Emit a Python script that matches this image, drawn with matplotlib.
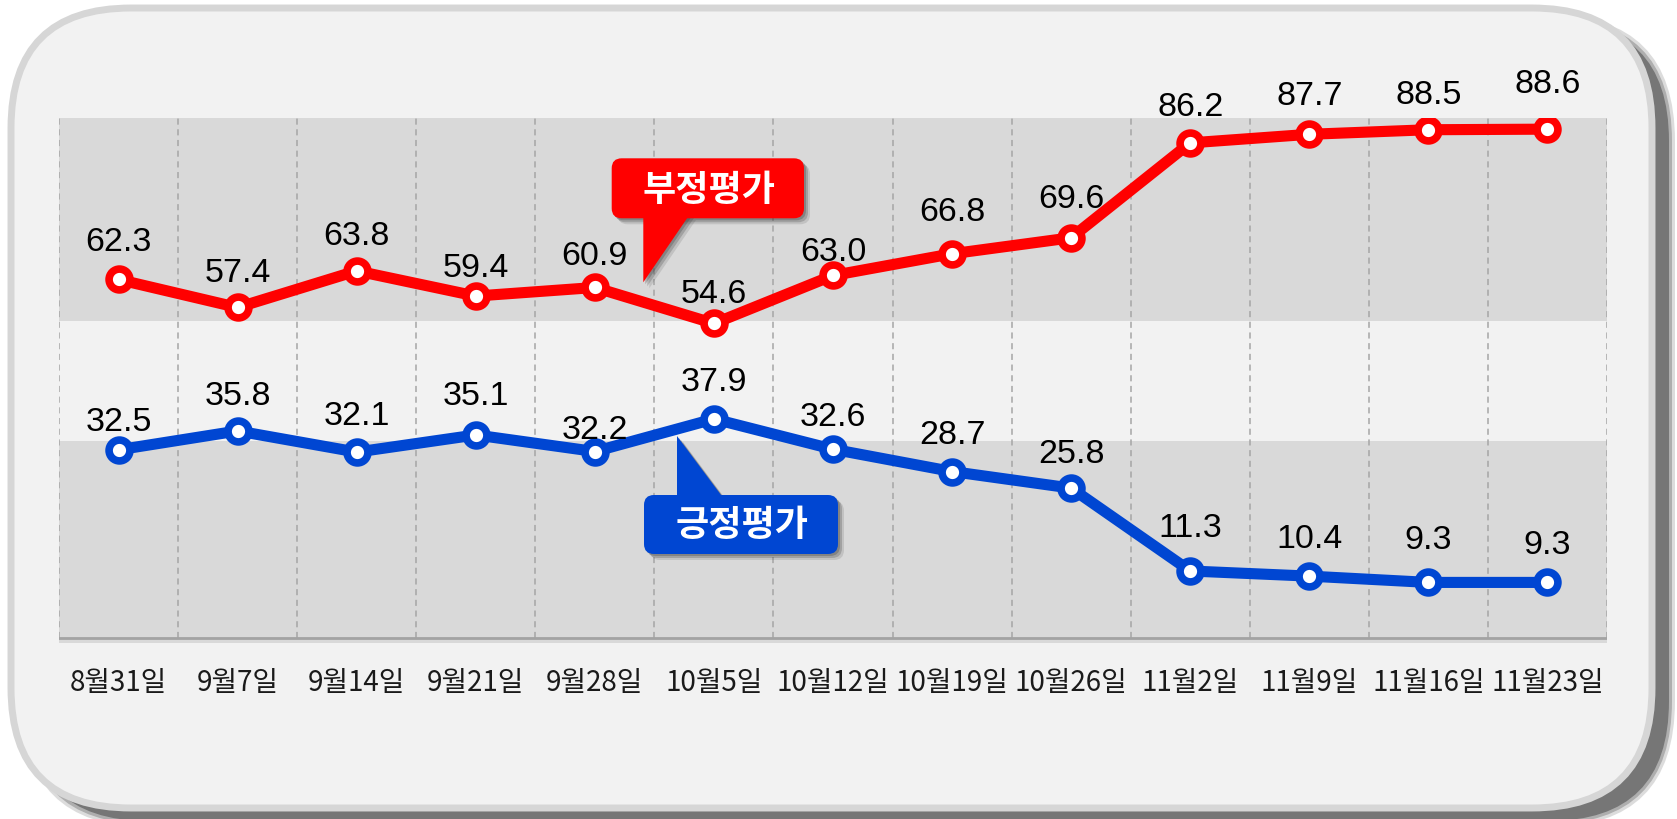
import numpy as np
import matplotlib
matplotlib.use('Agg')
import matplotlib.pyplot as plt
from matplotlib.patches import FancyBboxPatch, Polygon

plt.rcParams['font.family'] = ['Liberation Sans', 'Noto Sans CJK KR', 'DejaVu Sans']

# data
dates = ['8월31일', '9월7일', '9월14일', '9월21일', '9월28일', '10월5일', '10월12일',
         '10월19일', '10월26일', '11월2일', '11월9일', '11월16일', '11월23일']
negative = [62.3, 57.4, 63.8, 59.4, 60.9, 54.6, 63.0, 66.8, 69.6, 86.2, 87.7, 88.5, 88.6]
positive = [32.5, 35.8, 32.1, 35.1, 32.2, 37.9, 32.6, 28.7, 25.8, 11.3, 10.4, 9.3, 9.3]

# label offsets above the points, in pixels (label centre)
neg_off = [41, 38, 38, 32, 35, 33, 27, 45, 42, 39, 42, 38, 49]
pos_off = [31, 38, 40, 42, 25, 40, 36, 40, 38, 46, 41, 46, 41]

RED = '#ff0000'
BLUE = '#0046d2'
W, H = 1677, 820


def pixel_axes(fig, z):
    a = fig.add_axes([0, 0, 1, 1], zorder=z)
    a.set_xlim(0, W)
    a.set_ylim(H, 0)
    a.axis('off')
    a.patch.set_alpha(0)
    return a


def callout(a, box, tip, color, text, text_y):
    x0, y0, x1, y1 = box
    for dx, alpha in [(6, 0.15), (4, 0.25), (2, 0.3)]:
        a.add_patch(FancyBboxPatch((x0 + dx, y0 + dx), x1 - x0, y1 - y0,
                                   boxstyle='round,pad=0,rounding_size=10',
                                   fc='#404040', ec='none', alpha=alpha))
        a.add_patch(Polygon([(px + dx, py + dx) for px, py in tip],
                            fc='#404040', ec='none', alpha=alpha))
    a.add_patch(FancyBboxPatch((x0, y0), x1 - x0, y1 - y0,
                               boxstyle='round,pad=0,rounding_size=10',
                               fc=color, ec='none'))
    a.add_patch(Polygon(tip, fc=color, ec='none'))
    a.text((x0 + x1) / 2 + 1, text_y, text, color='white', fontsize=26,
           fontweight='black', family='Noto Sans CJK KR', ha='center', va='center')


def main():
    fig = plt.figure(figsize=(W / 100, H / 100), dpi=100)
    fig.patch.set_facecolor('white')

    # rounded frame with drop shadow
    bg = pixel_axes(fig, 0)
    bx0, by0, bx1, by1 = 11, 9, 1652, 809
    for grow, alpha in [(6, 0.25), (3, 0.45), (0, 1.0)]:
        bg.add_patch(FancyBboxPatch((bx0 + 17 - grow, by0 + 13 - grow),
                                    bx1 - bx0 + 2 * grow, by1 - by0 + 2 * grow,
                                    boxstyle='round,pad=0,rounding_size=%d' % (120 + grow),
                                    fc='#767676', ec='none', alpha=alpha))
    bg.add_patch(FancyBboxPatch((bx0, by0), bx1 - bx0, by1 - by0,
                                boxstyle='round,pad=0,rounding_size=120',
                                fc='#f2f2f2', ec='#d6d6d6', lw=5))

    # chart
    ax = fig.add_axes([59 / W, 1 - 644 / H, (1607 - 59) / W, (644 - 119.3) / H], zorder=1)
    ax.patch.set_alpha(0)
    x = np.arange(len(dates))
    ax.set_xlim(-0.5, len(dates) - 0.5)
    ax.set_ylim(-1.3, 90.5)
    ax.axhspan(55, 90.5, color='#d9d9d9', lw=0, zorder=0)
    ax.axhspan(-1.3, 34, color='#d9d9d9', lw=0, zorder=0)
    for b in np.arange(-0.5, len(dates)):
        ax.plot([b, b], [-0.45, 90.5], color='#a6a6a6', lw=1.1,
                ls=(0, (4, 3)), zorder=1)
    ax.axhline(-0.45, color='#a3a3a3', lw=2, zorder=1)
    for s in ax.spines.values():
        s.set_visible(False)
    ax.set_xticks([])
    ax.set_yticks([])

    ax.plot(x, negative, color=RED, lw=8, marker='o', ms=15, mfc='white',
            mec=RED, mew=5.5, zorder=3, solid_joinstyle='round')
    ax.plot(x, positive, color=BLUE, lw=8, marker='o', ms=15, mfc='white',
            mec=BLUE, mew=5.5, zorder=3, solid_joinstyle='round')

    for vals, offs in [(negative, neg_off), (positive, pos_off)]:
        for i, (v, off) in enumerate(zip(vals, offs)):
            ax.annotate('%.1f' % v, (i, v), xytext=(0, off - 11.5),
                        textcoords='offset pixels', ha='center', va='baseline',
                        fontsize=24.5, color='black', zorder=4)

    tx = ax.get_xaxis_transform()
    for i, d in enumerate(dates):
        ax.text(i, -47 / 524.7, d, transform=tx, ha='center', va='baseline',
                fontsize=20, family='Noto Sans CJK KR', color='#1a1a1a')

    # callouts
    top = pixel_axes(fig, 2)
    callout(top, (611.7, 159.3, 804, 219.3),
            [(643.3, 215), (690, 215), (643.3, 283.3)], RED, '부정평가', 191)
    callout(top, (644, 496, 838, 555),
            [(677, 500), (724, 500), (677, 437)], BLUE, '긍정평가', 526)

    fig.savefig('out.png', dpi=100)


if __name__ == '__main__':
    main()
